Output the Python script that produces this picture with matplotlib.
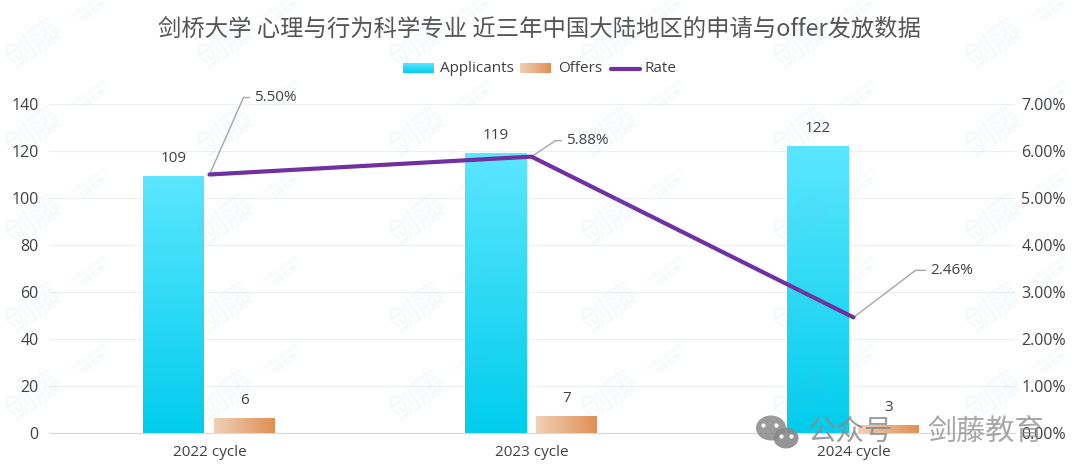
import numpy as np
from matplotlib import pyplot as plt
from matplotlib.colors import LinearSegmentedColormap
from matplotlib.patches import Ellipse

plt.rcParams['font.family'] = ['Noto Sans CJK SC', 'DejaVu Sans']

categories = ["2022 cycle", "2023 cycle", "2024 cycle"]
applicants = [109, 119, 122]
offers = [6, 7, 3]
rate = [5.50, 5.88, 2.46]
rate_labels = ["5.50%", "5.88%", "2.46%"]
left_ticks = [0, 20, 40, 60, 80, 100, 120, 140]
right_ticks = [0, 1, 2, 3, 4, 5, 6, 7]
title = "剑桥大学 心理与行为科学专业 近三年中国大陆地区的申请与offer发放数据"

W, H = 1080, 475
cyan = LinearSegmentedColormap.from_list("cyan", ["#5ce6ff", "#00cdec"])
orange = LinearSegmentedColormap.from_list("orange", ["#f0d0b6", "#e08f55"])
text_col = "#404040"
font = "Open Sans"

fig = plt.figure(figsize=(W / 100, H / 100), dpi=100)
ax = fig.add_axes([48.5 / W, 1 - 433 / H, 966 / W, 329 / H])
ax2 = ax.twinx()
ax.set_zorder(2)
ax2.set_zorder(3)
ax.patch.set_visible(False)
ax2.patch.set_visible(False)

# gradient bars, imshow with the bar's extent
bar_w = 61 / 322
v_grad = np.linspace(0, 1, 256).reshape(-1, 1)
h_grad = np.linspace(0, 1, 256).reshape(1, -1)
for i in range(3):
    ax.imshow(v_grad, cmap=cyan, aspect="auto", zorder=2,
              extent=[i - 0.017 - bar_w, i - 0.017, 0, applicants[i]])
    ax.imshow(h_grad, cmap=orange, aspect="auto", zorder=2,
              extent=[i + 0.015, i + 0.015 + bar_w, 0, offers[i]])
    ax.text(i - 0.017 - bar_w / 2, applicants[i] + 4.5, str(applicants[i]), ha="center", va="bottom",
            fontsize=11, color=text_col, zorder=6, family=font)
    ax.text(i + 0.015 + bar_w / 2, offers[i] + 4.5, str(offers[i]), ha="center", va="bottom",
            fontsize=11, color=text_col, zorder=6, family=font)
ax.set_xlim(-0.5, 2.5)
ax.set_ylim(0, 140)
ax2.set_ylim(0, 7)

ax.set_yticks(left_ticks)
ax.set_xticks(range(3))
ax.set_xticklabels(categories, family=font)
ax.grid(axis="y", color="#eef1f4", linewidth=0.9, zorder=0)
ax.set_axisbelow(True)
ax.tick_params(axis="both", length=0, labelsize=11.5, labelcolor=text_col)
ax.tick_params(axis="x", pad=9, labelsize=11)
ax.tick_params(axis="y", pad=7)
for lab in ax.get_yticklabels():
    lab.set_family(font)
for s in ax.spines.values():
    s.set_visible(False)
ax.spines["bottom"].set_visible(True)
ax.spines["bottom"].set_color("#d5d9dd")

ax2.plot(range(3), rate, color="#7030a0", linewidth=3, zorder=5, solid_capstyle="round")
ax2.set_yticks(right_ticks)
ax2.set_yticklabels(["%d.00%%" % t for t in right_ticks], family=font)
ax2.tick_params(axis="y", length=0, labelsize=11.5, labelcolor=text_col, pad=5)
for s in ax2.spines.values():
    s.set_visible(False)

# leader lines: elbow and end, pixels from the point
elbows = [(34, 77), (24, 16), (62, 47)]
ends = [(40, 77), (30, 16), (72, 47)]
for i in range(3):
    x0, y0 = ax2.transData.transform((i, rate[i]))
    ax2.annotate("", xy=(i, rate[i]), xytext=elbows[i], textcoords="offset pixels",
                 arrowprops=dict(arrowstyle="-", color="#a6a6a6", lw=1, shrinkA=0, shrinkB=0))
    ax2.annotate("", xy=(x0 + elbows[i][0], y0 + elbows[i][1]), xycoords="figure pixels",
                 xytext=(x0 + ends[i][0], y0 + ends[i][1]), textcoords="figure pixels",
                 arrowprops=dict(arrowstyle="-", color="#a6a6a6", lw=1, shrinkA=0, shrinkB=0))
    ax2.annotate(rate_labels[i], xy=(i, rate[i]), xytext=(ends[i][0] + 5, ends[i][1]), textcoords="offset pixels",
                 fontsize=11, color=text_col, va="center", family=font)

fig.text(539 / W, 1 - 29 / H, title, ha="center", va="center", fontsize=16.8, color="#555555")

# legend drawn by hand
lax = fig.add_axes([0, 0, 1, 1], zorder=4)
lax.axis("off")
lax.imshow(v_grad, cmap=cyan, aspect="auto", extent=[403, 434, 73, 63])
lax.imshow(h_grad, cmap=orange, aspect="auto", extent=[520, 551, 73, 63])
lax.set_xlim(0, W)
lax.set_ylim(H, 0)
lax.plot([611, 640], [69, 69], color="#7030a0", linewidth=3, solid_capstyle="round")
for x, s in zip([440, 558, 645], ["Applicants", "Offers", "Rate"]):
    lax.text(x, 69, s, va="center", fontsize=11, color=text_col, family=font)

# faint watermark grid
for x in range(33, 1080, 192):
    for y in range(45, 475, 88):
        lax.text(x, y, "剑藤", rotation=35, fontsize=22, fontweight="bold", color="#7fb8dc", alpha=0.07,
                 ha="center", va="center", zorder=1, clip_on=True)
        lax.text(x + 58, y - 37, "CamExplorer\n剑藤教育", rotation=35, fontsize=5.5, color="#7fb8dc", alpha=0.1,
                 ha="center", va="center", zorder=1, clip_on=True)

# account stamp bottom right
lax.text(808, 432, "公众号", fontsize=20.5, color="#8a8a8a", alpha=0.85, va="center", zorder=8)
lax.text(927, 432, "剑藤教育", fontsize=21, color="#8a8a8a", alpha=0.75, va="center", zorder=8)
lax.add_patch(Ellipse((771, 428), 30, 25, color="#8a8a8a", alpha=0.85, zorder=8, lw=0))
lax.add_patch(Ellipse((786, 438), 25, 21, color="#8a8a8a", alpha=0.9, zorder=8, lw=0))
lax.scatter([763, 776, 781, 791], [425, 425, 436, 436], s=9, color="white", zorder=9, linewidths=0)

fig.savefig("out.png", dpi=100)
